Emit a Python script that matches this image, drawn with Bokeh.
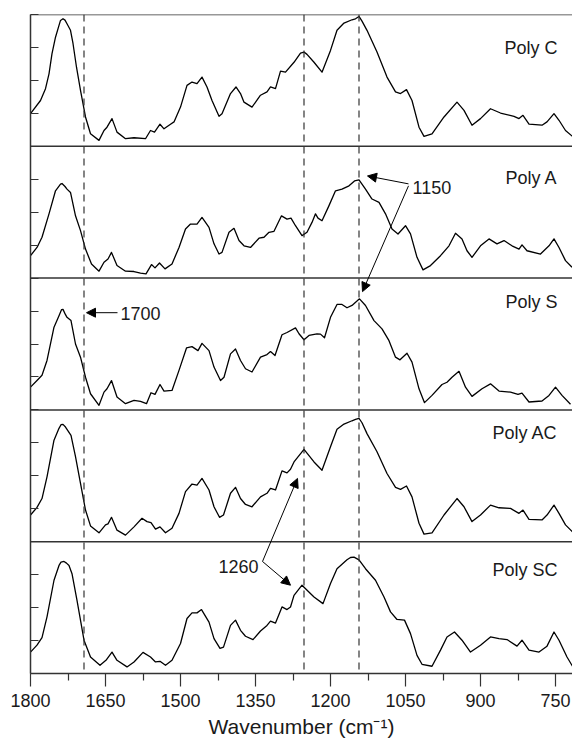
from bokeh.plotting import figure
from bokeh.models import Range1d, FixedTicker, Span, Arrow, NormalHead, Label
from bokeh.embed import file_html
from bokeh.resources import INLINE

# ---------------- data ----------------
poly_c_wn = [1800, 1780, 1770, 1763, 1757, 1750, 1743, 1740, 1735, 1731, 1727, 1720, 1715, 1708, 1700, 1690, 1680, 1663, 1653, 1647, 1637, 1627, 1610, 1593, 1570, 1560, 1552, 1541, 1533, 1520, 1513, 1500, 1487, 1477, 1467, 1457, 1447, 1437, 1423, 1417, 1400, 1389, 1380, 1373, 1357, 1340, 1327, 1320, 1310, 1300, 1290, 1273, 1260, 1253, 1247, 1233, 1217, 1200, 1187, 1173, 1157, 1150, 1143, 1137, 1127, 1107, 1087, 1070, 1060, 1048, 1037, 1023, 1013, 997, 973, 947, 933, 917, 900, 880, 860, 833, 823, 815, 803, 777, 767, 753, 743, 730, 716]
poly_c_ab = [0.99, 1.39, 1.75, 2.2, 2.81, 3.31, 3.67, 3.82, 3.87, 3.83, 3.72, 3.52, 3.12, 2.4, 1.7, 0.89, 0.38, 0.18, 0.48, 0.58, 0.84, 0.43, 0.23, 0.26, 0.23, 0.48, 0.43, 0.67, 0.53, 0.67, 0.74, 1.19, 1.85, 1.95, 1.9, 2.1, 1.8, 1.39, 0.91, 0.99, 1.6, 1.8, 1.6, 1.34, 1.19, 1.55, 1.65, 1.8, 1.75, 2.28, 2.25, 2.55, 2.83, 2.86, 2.79, 2.55, 2.25, 2.91, 3.52, 3.74, 3.84, 3.87, 3.94, 3.8, 3.52, 2.86, 2.1, 1.65, 1.6, 1.72, 1.39, 0.58, 0.3, 0.38, 0.89, 1.34, 1.09, 0.64, 0.84, 1.14, 1.01, 0.91, 0.84, 0.94, 0.67, 0.64, 0.74, 0.99, 0.79, 0.48, 0.3]

poly_a_wn = [1800, 1787, 1777, 1763, 1750, 1740, 1737, 1731, 1727, 1720, 1710, 1700, 1690, 1678, 1663, 1653, 1645, 1638, 1627, 1610, 1593, 1580, 1569, 1558, 1551, 1542, 1531, 1517, 1503, 1490, 1480, 1467, 1457, 1443, 1433, 1423, 1417, 1403, 1393, 1383, 1373, 1360, 1343, 1333, 1323, 1313, 1298, 1287, 1279, 1270, 1257, 1247, 1237, 1230, 1225, 1217, 1203, 1190, 1177, 1163, 1152, 1143, 1130, 1117, 1103, 1090, 1077, 1065, 1050, 1040, 1027, 1015, 1000, 980, 963, 950, 937, 927, 917, 900, 883, 867, 853, 837, 823, 817, 807, 780, 763, 753, 743, 730, 717]
poly_a_ab = [0.68, 0.93, 1.24, 1.95, 2.65, 2.85, 2.87, 2.78, 2.7, 2.6, 1.89, 1.44, 0.88, 0.43, 0.21, 0.48, 0.58, 0.78, 0.38, 0.21, 0.2, 0.15, 0.13, 0.41, 0.31, 0.46, 0.28, 0.43, 0.93, 1.49, 1.64, 1.64, 1.84, 1.54, 1.04, 0.73, 0.78, 1.39, 1.51, 1.14, 0.98, 0.93, 1.21, 1.24, 1.39, 1.42, 1.89, 1.79, 1.82, 1.59, 1.29, 1.39, 1.69, 1.95, 1.82, 1.74, 2.2, 2.65, 2.7, 2.8, 2.95, 2.98, 2.7, 2.4, 2.3, 1.95, 1.49, 1.34, 1.59, 1.34, 0.63, 0.25, 0.38, 0.68, 0.98, 1.36, 1.19, 0.83, 0.63, 0.98, 1.19, 1.04, 1.14, 0.98, 0.88, 1.01, 0.83, 0.73, 0.98, 1.19, 0.93, 0.53, 0.33]

poly_s_wn = [1800, 1787, 1777, 1767, 1753, 1743, 1738, 1735, 1730, 1727, 1719, 1710, 1700, 1690, 1680, 1663, 1653, 1647, 1638, 1627, 1610, 1593, 1580, 1568, 1559, 1551, 1541, 1533, 1517, 1503, 1488, 1477, 1465, 1457, 1443, 1433, 1420, 1413, 1400, 1390, 1380, 1370, 1357, 1340, 1327, 1320, 1311, 1297, 1287, 1270, 1263, 1253, 1243, 1227, 1220, 1212, 1200, 1187, 1177, 1167, 1157, 1142, 1130, 1113, 1097, 1083, 1070, 1061, 1047, 1037, 1023, 1012, 997, 977, 967, 957, 943, 930, 917, 897, 880, 863, 840, 825, 817, 803, 777, 763, 750, 737, 720]
poly_s_ab = [0.69, 0.89, 1.05, 1.5, 2.51, 2.86, 3.04, 3.05, 2.89, 2.81, 2.71, 2.0, 1.6, 0.99, 0.49, 0.14, 0.54, 0.64, 0.89, 0.39, 0.19, 0.29, 0.26, 0.19, 0.52, 0.47, 0.77, 0.57, 0.59, 1.2, 1.88, 1.92, 1.8, 2.02, 1.8, 1.3, 0.89, 0.99, 1.7, 1.85, 1.5, 1.25, 1.15, 1.6, 1.68, 1.77, 1.65, 2.28, 2.35, 2.49, 2.31, 2.13, 2.26, 2.31, 2.3, 2.19, 2.81, 3.2, 3.2, 3.1, 3.17, 3.37, 3.17, 2.71, 2.46, 2.1, 1.6, 1.52, 1.72, 1.45, 0.64, 0.22, 0.44, 0.77, 0.84, 0.99, 1.17, 0.69, 0.41, 0.64, 0.79, 0.57, 0.54, 0.47, 0.51, 0.24, 0.27, 0.44, 0.69, 0.44, 0.17]

poly_ac_wn = [1800, 1787, 1777, 1767, 1753, 1743, 1739, 1735, 1730, 1727, 1719, 1710, 1700, 1690, 1680, 1663, 1650, 1645, 1638, 1627, 1610, 1593, 1577, 1567, 1559, 1550, 1541, 1530, 1517, 1503, 1490, 1477, 1467, 1457, 1443, 1433, 1422, 1414, 1400, 1390, 1380, 1370, 1357, 1340, 1327, 1320, 1310, 1297, 1287, 1280, 1273, 1253, 1233, 1217, 1200, 1187, 1173, 1157, 1150, 1143, 1137, 1127, 1107, 1087, 1070, 1060, 1048, 1037, 1023, 1013, 997, 973, 947, 933, 917, 900, 880, 863, 840, 823, 815, 803, 777, 767, 753, 743, 730, 716]
poly_ac_ab = [0.81, 1.04, 1.31, 1.97, 3.08, 3.44, 3.55, 3.56, 3.48, 3.41, 3.23, 2.58, 1.77, 0.96, 0.48, 0.27, 0.51, 0.54, 0.74, 0.35, 0.2, 0.45, 0.71, 0.61, 0.58, 0.38, 0.45, 0.27, 0.41, 0.86, 1.52, 1.75, 1.72, 1.92, 1.57, 1.06, 0.74, 0.81, 1.47, 1.65, 1.31, 1.13, 1.06, 1.36, 1.47, 1.62, 1.57, 2.15, 2.09, 2.2, 2.42, 2.8, 2.42, 2.17, 2.88, 3.41, 3.57, 3.67, 3.71, 3.74, 3.61, 3.28, 2.73, 2.07, 1.65, 1.59, 1.69, 1.36, 0.56, 0.23, 0.27, 0.81, 1.31, 1.06, 0.61, 0.81, 1.11, 1.03, 1.01, 0.86, 0.96, 0.68, 0.66, 0.81, 1.11, 0.86, 0.51, 0.3]

poly_sc_wn = [1800, 1787, 1777, 1767, 1753, 1743, 1739, 1733, 1728, 1723, 1717, 1707, 1693, 1680, 1661, 1648, 1637, 1627, 1607, 1593, 1575, 1560, 1550, 1541, 1530, 1517, 1500, 1487, 1477, 1467, 1458, 1443, 1433, 1421, 1414, 1400, 1390, 1380, 1370, 1355, 1340, 1327, 1320, 1310, 1297, 1287, 1280, 1273, 1257, 1233, 1215, 1200, 1187, 1167, 1160, 1153, 1143, 1130, 1110, 1093, 1080, 1067, 1052, 1040, 1027, 1017, 997, 980, 967, 952, 937, 920, 900, 880, 863, 847, 827, 817, 803, 783, 767, 753, 743, 727, 716]
poly_sc_ab = [0.65, 0.86, 1.09, 1.72, 2.83, 3.28, 3.38, 3.4, 3.35, 3.28, 3.03, 2.22, 1.01, 0.5, 0.25, 0.42, 0.65, 0.4, 0.2, 0.35, 0.64, 0.5, 0.35, 0.37, 0.25, 0.4, 0.91, 1.67, 1.84, 1.84, 1.94, 1.56, 1.06, 0.76, 0.8, 1.46, 1.62, 1.31, 1.13, 1.03, 1.29, 1.46, 1.59, 1.53, 2.02, 1.94, 2.02, 2.37, 2.68, 2.32, 2.12, 2.73, 3.18, 3.45, 3.52, 3.53, 3.45, 3.18, 2.83, 2.32, 1.87, 1.64, 1.62, 1.21, 0.55, 0.28, 0.22, 0.71, 1.11, 1.26, 1.01, 0.65, 0.86, 1.11, 1.06, 1.03, 0.83, 1.01, 0.71, 0.65, 0.83, 1.26, 1.01, 0.5, 0.22]

sample_names = ["Poly C", "Poly A", "Poly S", "Poly AC", "Poly SC"]
label_heights = [2.98, 3.04, 3.28, 3.31, 3.13]   # label height above each panel base
panel_height = 4
x_ticks = [1800, 1650, 1500, 1350, 1200, 1050, 900, 750]
x_minor = [1725, 1575, 1425, 1275, 1125, 975, 825]
marker_lines = [1693, 1253, 1143]   # dashed guide lines (1700, 1260, 1150 bands)

series = [(poly_c_wn, poly_c_ab), (poly_a_wn, poly_a_ab), (poly_s_wn, poly_s_ab),
          (poly_ac_wn, poly_ac_ab), (poly_sc_wn, poly_sc_ab)]
n = len(series)
top = n * panel_height

FONT = "Liberation Sans"
INK = "#1a1a1a"
FRAME = "#333333"

p = figure(width=572, height=742, output_backend="svg", toolbar_location=None,
           x_range=Range1d(1800, 716), y_range=Range1d(0, top),
           min_border_left=30, min_border_right=0, min_border_top=14, min_border_bottom=69)
p.outline_line_color = None
p.grid.visible = False
p.background_fill_color = "white"
p.border_fill_color = "white"

# x axis
xa = p.xaxis[0]
xa.ticker = FixedTicker(ticks=x_ticks, minor_ticks=x_minor)
xa.axis_label = "Wavenumber (cm\u207b\u00b9)"
xa.axis_label_text_font = FONT
xa.axis_label_text_font_size = "21px"
xa.axis_label_text_font_style = "normal"
xa.axis_label_text_color = INK
xa.axis_label_standoff = 5
xa.major_label_text_font = FONT
xa.major_label_text_font_size = "18px"
xa.major_label_text_color = INK
xa.major_label_standoff = 7
xa.major_tick_out = 13
xa.major_tick_in = 0
xa.minor_tick_out = 7
xa.minor_tick_in = 0
xa.axis_line_color = FRAME
xa.axis_line_width = 1.5
xa.major_tick_line_color = FRAME
xa.minor_tick_line_color = FRAME
xa.major_tick_line_width = 1.2
xa.minor_tick_line_width = 1.2

# y axis (ticks only, no labels)
ya = p.yaxis[0]
ya.ticker = FixedTicker(ticks=list(range(0, top + 1)), minor_ticks=[])
ya.major_label_overrides = {i: "" for i in range(0, top + 1)}
ya.major_tick_in = 8
ya.major_tick_out = 0
ya.minor_tick_in = 0
ya.minor_tick_out = 0
ya.axis_line_color = FRAME
ya.axis_line_width = 1.5
ya.major_tick_line_color = FRAME
ya.major_tick_line_width = 1.2
ya.major_label_standoff = 0

# panel separators and top edge
for k in range(1, n + 1):
    p.add_layout(Span(location=k * panel_height, dimension="width",
                      line_color=FRAME, line_width=1.5))

# dashed guide lines
for wn in marker_lines:
    p.add_layout(Span(location=wn, dimension="height", line_color="#333333",
                      line_width=1.2, line_dash="7 5"))

# spectra (stacked, Poly C on top)
for i, (wn, ab) in enumerate(series):
    base = (n - 1 - i) * panel_height
    p.line(wn, [base + v for v in ab], line_color="black", line_width=1.3,
           line_join="round")
    p.add_layout(Label(x=746, y=base + label_heights[i], text=sample_names[i],
                       text_font=FONT, text_font_size="18px", text_color=INK,
                       text_align="right", text_baseline="middle"))

# annotations
def arrow(x0, y0, x1, y1):
    p.add_layout(Arrow(end=NormalHead(size=9, fill_color="black", line_color="black", line_width=1),
                       x_start=x0, y_start=y0, x_end=x1, y_end=y1,
                       line_color="black", line_width=1))

def note(x, y, t, align):
    p.add_layout(Label(x=x, y=y, text=t, text_font=FONT, text_font_size="18px",
                       text_color=INK, text_align=align, text_baseline="middle"))

# 1700
arrow(1626, 10.95, 1688, 10.95)
note(1620, 10.93, "1700", "left")
# 1150
arrow(1044, 14.86, 1126, 15.10)
arrow(1044, 14.80, 1136, 11.59)
note(1036, 14.75, "1150", "left")
# 1260
arrow(1336, 3.40, 1266, 5.92)
arrow(1336, 3.40, 1280, 2.68)
note(1344, 3.26, "1260", "right")

open("out.html", "w").write(file_html(p, INLINE))
